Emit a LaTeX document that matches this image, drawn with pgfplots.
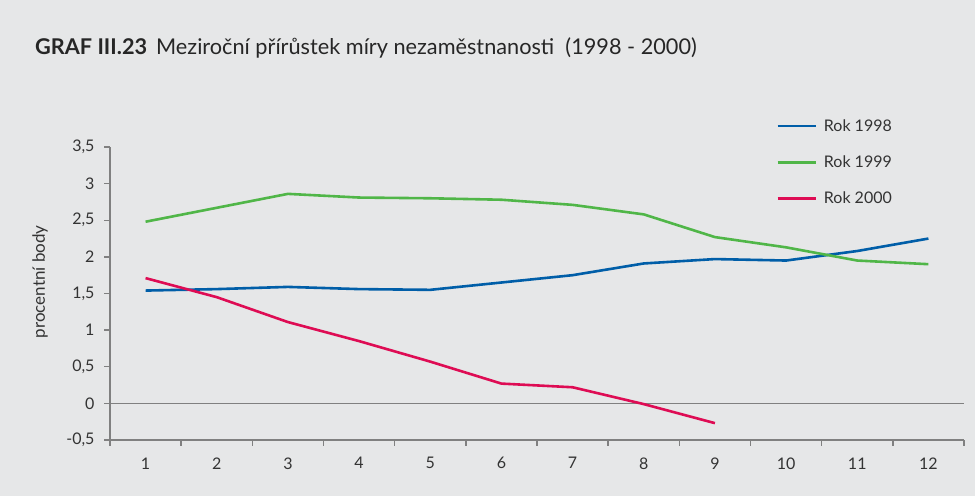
\documentclass[border=0pt]{standalone}
\usepackage{pgfplots}
\pgfplotsset{compat=1.18}
\usepackage{fontspec}
\setmainfont{Lato}
\definecolor{bg}{RGB}{230,231,232}
\definecolor{axgray}{RGB}{128,128,128}
\definecolor{cblue}{RGB}{0,94,168}
\definecolor{cgreen}{RGB}{80,182,72}
\definecolor{cred}{RGB}{222,12,84}
\begin{document}
\begin{tikzpicture}
\fill[bg] (0,0) rectangle (975bp,496bp);
\useasboundingbox (0,0) rectangle (975bp,496bp);
\node[anchor=base west, inner sep=0pt, text=black!85] at (35bp,441bp)
  {\fontsize{21.7bp}{25bp}\selectfont\textbf{GRAF III.23}\hspace{9bp}Meziroční přírůstek míry nezaměstnanosti\ \ (1998 - 2000)};
\begin{axis}[
  at={(110bp,56bp)}, anchor=south west,
  scale only axis, width=854bp, height=293bp,
  xmin=0.5, xmax=12.5, ymin=-0.5, ymax=3.5,
  axis x line*=bottom, axis y line*=left,
  axis line style={axgray, line width=1.6bp, -},
  xtick={1,...,12},
  minor xtick={0.5,1.5,...,12.5},
  major x tick style={draw=none},
  minor x tick style={axgray, line width=1.4bp},
  ytick={-0.5,0,0.5,1,1.5,2,2.5,3,3.5},
  y tick style={axgray, line width=1.4bp},
  tick align=outside,
  major tick length=6bp, minor tick length=6bp,
  /pgf/number format/use comma,
  /pgf/number format/assume math mode=true,
  yticklabel style={/pgf/number format/fixed, /pgf/number format/precision=1},
  tick label style={font=\fontsize{16bp}{19bp}\selectfont, text=black!80},
  xticklabel style={yshift=-8bp},
  yticklabel style={xshift=-6bp},
  ylabel={procentní body},
  ylabel style={at={(axis description cs:-0.082,0.54)}, anchor=center, font=\fontsize{17bp}{20bp}\selectfont, text=black!80},
  legend style={at={(0.78,1.102)}, anchor=north west, draw=none, fill=none, inner sep=0pt,
    font=\fontsize{16bp}{19bp}\selectfont, text=black!80, row sep=19bp, cells={anchor=west},
    nodes={inner xsep=7bp}},
  legend image code/.code={\draw[#1, line width=2.6bp] (0bp,0bp) -- (38bp,0bp);},
  every axis plot/.append style={line width=2.6bp},
]
\addplot[axgray, line width=1.2bp, forget plot] coordinates {(0.5,0) (12.5,0)};
\addplot[cblue] coordinates {(1,1.54) (2,1.56) (3,1.59) (4,1.56) (5,1.55) (6,1.65) (7,1.75) (8,1.91) (9,1.97) (10,1.95) (11,2.08) (12,2.25)};
\addlegendentry{Rok 1998}
\addplot[cgreen] coordinates {(1,2.48) (2,2.67) (3,2.86) (4,2.81) (5,2.80) (6,2.78) (7,2.71) (8,2.58) (9,2.27) (10,2.13) (11,1.95) (12,1.90)};
\addlegendentry{Rok 1999}
\addplot[cred] coordinates {(1,1.71) (2,1.45) (3,1.11) (4,0.85) (5,0.57) (6,0.27) (7,0.22) (8,-0.01) (9,-0.27)};
\addlegendentry{Rok 2000}
\end{axis}
\end{tikzpicture}
\end{document}
